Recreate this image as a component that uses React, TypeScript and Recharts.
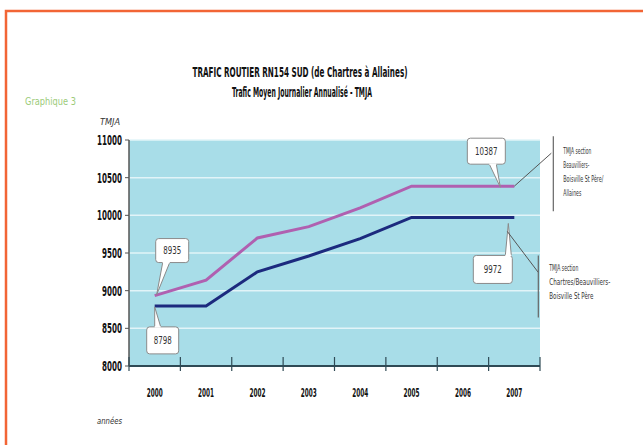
import { LineChart, Line, XAxis, YAxis, CartesianGrid, LabelList } from 'recharts'

const years = ['2000', '2001', '2002', '2003', '2004', '2005', '2006', '2007']
const allaines = [8935, 9140, 9700, 9850, 10100, 10387, 10387, 10387]
const chartres = [8798, 8798, 9250, 9460, 9690, 9972, 9972, 9972]
const yTicks = [8000, 8500, 9000, 9500, 10000, 10500, 11000]
const legendAllaines = ['TMJA section', 'Beauvilliers-', 'Boisville St Père/', 'Allaines']
const legendChartres = ['TMJA section', 'Chartres/Beauvilliers-', 'Boisville St Père']

const data = years.map((year, i) => ({ year, allaines: allaines[i], chartres: chartres[i] }))

const NARROW = '"Liberation Sans Narrow", "DejaVu Sans Condensed", "Arial Narrow", "Liberation Sans", sans-serif'
const PINK = '#b060b0'
const BLUE = '#1c2a7e'

// squeeze a label to roughly the width it has in the scan
const squeeze = (t: string, per: number) => Math.max(6, t.length * per)

function Bubble({ x, y, w, h, text, tail }: { x: number; y: number; w: number; h: number; text: string; tail: number[] }) {
  return (
    <g>
      <rect x={x} y={y} width={w} height={h} rx={3} fill="#fff" stroke="#8a8a8a" strokeWidth={1} />
      <path d={`M${tail[0]},${tail[1]} L${tail[2]},${tail[3]} L${tail[4]},${tail[5]}`} fill="#fff" stroke="#8a8a8a" strokeWidth={1} />
      <line x1={tail[0]} y1={tail[1]} x2={tail[4]} y2={tail[5]} stroke="#fff" strokeWidth={1.5} />
      <text x={x + w / 2} y={y + h / 2 + 3.5} textAnchor="middle" fontFamily={NARROW} fontSize={10} fill="#333"
        textLength={squeeze(text, 4.5)} lengthAdjust="spacingAndGlyphs">
        {text}
      </text>
    </g>
  )
}

function LegendText({ x, y, lines, widths }: { x: number; y: number; lines: string[]; widths: number[] }) {
  return (
    <g>
      {lines.map((t, i) => (
        <text key={t} x={x} y={y + i * 14} fontFamily={NARROW} fontSize={9.5} fill="#333"
          textLength={widths[i]} lengthAdjust="spacingAndGlyphs">
          {t}
        </text>
      ))}
    </g>
  )
}

function AllainesLabel(props: any) {
  const { x, y, value, index } = props
  if (index === 0) {
    return (
      <Bubble x={x + 1} y={y - 57} w={33} h={24} text={String(value)} tail={[x + 8, y - 33, x + 2, y - 1, x + 15, y - 33]} />
    )
  }
  if (index === years.length - 1) {
    return (
      <g>
        <Bubble x={x - 47} y={y - 48} w={38} h={26} text={String(value)} tail={[x - 25, y - 22, x - 14, y + 1, x - 18, y - 22]} />
        <line x1={x} y1={y} x2={x + 37} y2={y - 33} stroke="#555" strokeWidth={1} />
        <line x1={x + 39} y1={y - 50} x2={x + 39} y2={y + 25} stroke="#666" strokeWidth={1.2} />
        <LegendText x={x + 49} y={y - 32} lines={legendAllaines} widths={[28, 26, 40, 18]} />
      </g>
    )
  }
  return null
}

function ChartresLabel(props: any) {
  const { x, y, value, index } = props
  if (index === 0) {
    return (
      <Bubble x={x - 8} y={y + 21} w={32} h={27} text={String(value)} tail={[x, y + 21, x, y + 1, x + 6, y + 21]} />
    )
  }
  if (index === years.length - 1) {
    return (
      <g>
        <Bubble x={x - 41} y={y + 38} w={39} h={28} text={String(value)} tail={[x - 9, y + 38, x - 6, y + 6, x - 3, y + 38]} />
        <line x1={x - 7} y1={y + 14} x2={x + 24} y2={y + 55} stroke="#555" strokeWidth={1} />
        <line x1={x + 24} y1={y + 38} x2={x + 24} y2={y + 100} stroke="#666" strokeWidth={1.2} />
        <LegendText x={x + 35} y={y + 54} lines={legendChartres} widths={[29, 61, 44]} />
      </g>
    )
  }
  return null
}

function YearTick(props: any) {
  const { x, y, payload, index } = props
  const half = payload?.offset || 25.7
  return (
    <g>
      <line x1={x - half} y1={y - 9} x2={x - half} y2={y + 5} stroke="#2f4a55" strokeWidth={1.2} />
      {index === years.length - 1 && (
        <line x1={x + half} y1={y - 9} x2={x + half} y2={y + 5} stroke="#2f4a55" strokeWidth={1.2} />
      )}
      <text x={x} y={y + 31} textAnchor="middle" fontFamily={NARROW} fontWeight="bold" fontSize={12} fill="#111"
        textLength={16} lengthAdjust="spacingAndGlyphs">
        {payload.value}
      </text>
    </g>
  )
}

function ValueTick(props: any) {
  const { x, y, payload } = props
  const s = String(payload.value)
  return (
    <text x={x} y={y + 5} textAnchor="end" fontFamily={NARROW} fontWeight="bold" fontSize={14} fill="#111"
      textLength={s.length * 5} lengthAdjust="spacingAndGlyphs">
      {s}
    </text>
  )
}

export default function App() {
  return (
    <div style={{ position: 'absolute', left: 0, top: 0, width: 643, height: 445, background: '#fff' }}>
      <LineChart width={643} height={445} data={data} margin={{ top: 140, right: 103, bottom: 49, left: 69 }}>
        <CartesianGrid vertical={false} fill="#a8dde8" stroke="#e2f4f8" strokeWidth={1.5} />
        <XAxis
          dataKey="year"
          scale="band"
          height={30}
          tickLine={false}
          tickSize={0}
          tickMargin={0}
          axisLine={{ stroke: '#2f4a55', strokeWidth: 2 }}
          tick={<YearTick />}
          interval={0}
        />
        <YAxis
          width={60}
          domain={[8000, 11000]}
          ticks={yTicks}
          tickSize={4}
          tickMargin={3}
          axisLine={{ stroke: '#555', strokeWidth: 1.5 }}
          tickLine={{ stroke: '#555' }}
          tick={<ValueTick />}
        />
        <Line dataKey="allaines" stroke={PINK} strokeWidth={3} dot={false} isAnimationActive={false}>
          <LabelList dataKey="allaines" content={<AllainesLabel />} />
        </Line>
        <Line dataKey="chartres" stroke={BLUE} strokeWidth={3} dot={false} isAnimationActive={false}>
          <LabelList dataKey="chartres" content={<ChartresLabel />} />
        </Line>
      </LineChart>
      <svg width={643} height={445} style={{ position: 'absolute', left: 0, top: 0, pointerEvents: 'none' }}>
        <path d="M6,445 V11 H643" fill="none" stroke="#f26535" strokeWidth={2.5} />
        <text x={300} y={77} textAnchor="middle" fontFamily={NARROW} fontWeight="bold" fontSize={14} fill="#111" textLength={215} lengthAdjust="spacingAndGlyphs">
          TRAFIC ROUTIER RN154 SUD (de Chartres à Allaines)
        </text>
        <text x={302} y={97} textAnchor="middle" fontFamily={NARROW} fontWeight="bold" fontSize={14} fill="#111" textLength={140} lengthAdjust="spacingAndGlyphs">
          Trafic Moyen Journalier Annualisé - TMJA
        </text>
        <text x={25} y={105} fontFamily={NARROW} fontSize={11} fill="#9ccb7a" textLength={51} lengthAdjust="spacingAndGlyphs">
          Graphique 3
        </text>
        <text x={100} y={125} fontFamily={NARROW} fontStyle="italic" fontSize={8} fill="#333" textLength={20} lengthAdjust="spacingAndGlyphs">
          TMJA
        </text>
        <text x={97} y={424} fontFamily={NARROW} fontStyle="italic" fontSize={9} fill="#333" textLength={25} lengthAdjust="spacingAndGlyphs">
          années
        </text>
      </svg>
    </div>
  )
}
